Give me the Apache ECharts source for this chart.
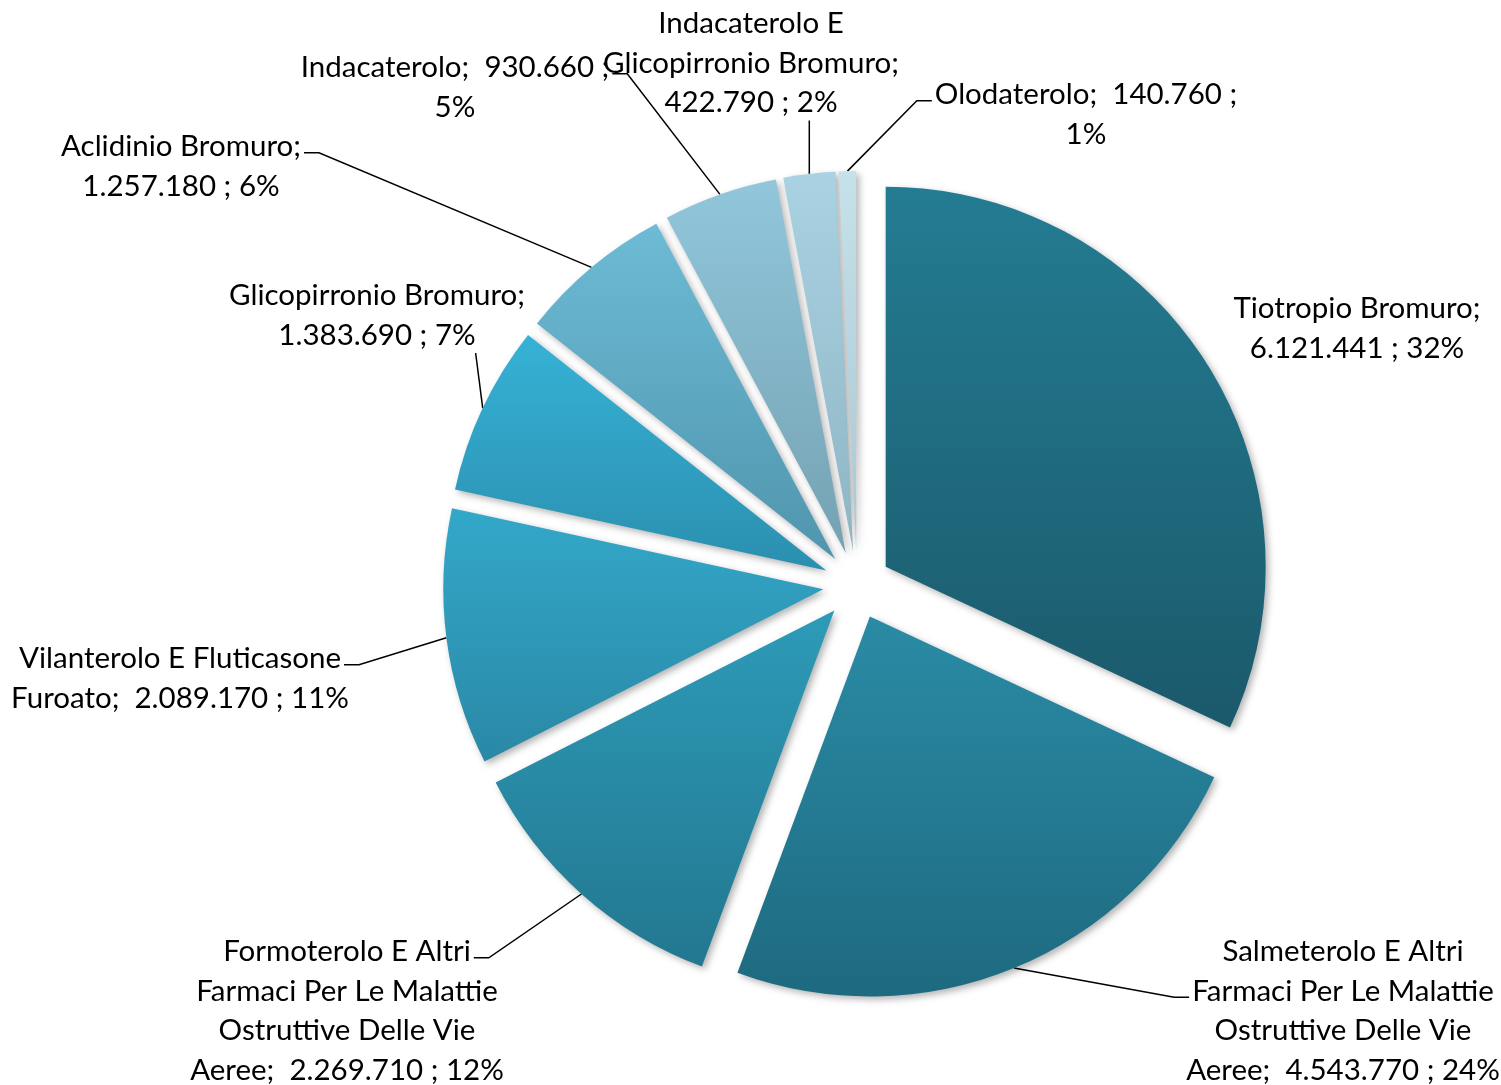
<!DOCTYPE html>
<html>
<head>
<meta charset="utf-8">
<script src="https://cdn.jsdelivr.net/npm/echarts@6/dist/echarts.min.js"></script>
<style>
  html, body { margin: 0; padding: 0; background: #fff; }
  #chart { width: 1501px; height: 1085px; }
</style>
</head>
<body>
<div id="chart"></div>
<script>
  var names = [
    'Tiotropio Bromuro',
    'Salmeterolo E Altri Farmaci Per Le Malattie Ostruttive Delle Vie Aeree',
    'Formoterolo E Altri Farmaci Per Le Malattie Ostruttive Delle Vie Aeree',
    'Vilanterolo E Fluticasone Furoato',
    'Glicopirronio Bromuro',
    'Aclidinio Bromuro',
    'Indacaterolo',
    'Indacaterolo E Glicopirronio Bromuro',
    'Olodaterolo'
  ]
  var values = [6121441, 4543770, 2269710, 2089170, 1383690, 1257180, 930660, 422790, 140760]

  // label text as wrapped in the original, {v} = value, {p} = percent
  var labelTemplates = [
    'Tiotropio Bromuro;\n{v} ; {p}%',
    'Salmeterolo E Altri\nFarmaci Per Le Malattie\nOstruttive Delle Vie\nAeree;  {v} ; {p}%',
    'Formoterolo E Altri\nFarmaci Per Le Malattie\nOstruttive Delle Vie\nAeree;  {v} ; {p}%',
    'Vilanterolo E Fluticasone\nFuroato;  {v} ; {p}%',
    'Glicopirronio Bromuro;\n{v} ; {p}%',
    'Aclidinio Bromuro;\n{v} ; {p}%',
    'Indacaterolo;  {v} ;\n{p}%',
    'Indacaterolo E\nGlicopirronio Bromuro;\n{v} ; {p}%',
    'Olodaterolo;  {v} ;\n{p}%'
  ]

  // gradient colours, top -> bottom
  var colorsTop = ['#247c92', '#2a8ba5', '#2d9bb8', '#33a8c9', '#36b2d6', '#6dbbd6', '#91c6db', '#a9d2e2', '#c5e1ea']
  var colorsBottom = ['#1b596b', '#1e6a80', '#237790', '#2a88a6', '#2b8faf', '#5095ad', '#74a2b2', '#8fb5c3', '#a9c8d3']

  // label box (centre x, top y) and where the leader line meets it
  var labelPos = [
    [1357, 289], [1343, 932], [347, 932], [180, 639], [377, 276],
    [181, 127], [455, 48], [751, 4], [1086, 75]
  ]
  var lineAnchor = [null, ['left', 1], ['right', 0], ['right', 0], ['bottom'],
    ['right', 0], ['right', 0], ['bottom'], ['left', 0]]

  var CX = 857, CY = 585, R = 380, EXPLODE = 34
  var FONT = 29.5, LINE_H = 39.5

  var texts = []

  function fmt(v) {
    return String(v).replace(/\B(?=(\d{3})+(?!\d))/g, '.')
  }

  var ctx = document.createElement('canvas').getContext('2d')
  ctx.font = FONT + 'px Lato'
  function textW(s) { return ctx.measureText(s).width }

  var chart = echarts.init(document.getElementById('chart'))

  var sliceData = names.map(function(n, i) {
    return {
      name: n,
      value: values[i],
      selected: true,
      itemStyle: {
        color: new echarts.graphic.LinearGradient(0, 0, 0, 1, [
          { offset: 0, color: colorsTop[i] },
          { offset: 1, color: colorsBottom[i] }
        ])
      }
    }
  })

  var labelData = names.map(function(n, i) {
    return {
      name: n,
      value: values[i],
      labelLine: { show: i !== 0 }
    }
  })

  chart.setOption({
    animation: false,
    series: [{
      // the exploded slices
      type: 'pie',
      center: [CX, CY],
      radius: [0, R],
      startAngle: 90,
      clockwise: true,
      selectedMode: 'multiple',
      selectedOffset: EXPLODE,
      silent: true,
      label: { show: false },
      labelLine: { show: false },
      itemStyle: {
        shadowBlur: 7,
        shadowOffsetX: 3,
        shadowOffsetY: 3,
        shadowColor: 'rgba(0,0,0,0.3)'
      },
      emphasis: { disabled: true },
      data: sliceData
    }, {
      // invisible ring carrying the labels and leader lines
      type: 'pie',
      center: [CX, CY],
      radius: [0, R + EXPLODE],
      startAngle: 90,
      clockwise: true,
      silent: true,
      percentPrecision: 0,
      avoidLabelOverlap: false,
      itemStyle: { color: 'rgba(0,0,0,0)' },
      label: {
        show: true,
        formatter: function(p) {
          var t = labelTemplates[p.dataIndex]
            .replace('{v}', fmt(p.value))
            .replace('{p}', p.percent)
          texts[p.dataIndex] = t
          return t
        },
        fontFamily: 'Lato',
        fontSize: FONT,
        lineHeight: LINE_H,
        color: '#000',
        align: 'center'
      },
      labelLine: {
        show: true,
        length: 20,
        length2: 15,
        lineStyle: { color: '#000', width: 1.5 }
      },
      labelLayout: function(params) {
        var i = params.dataIndex
        var pos = labelPos[i]
        var res = { x: pos[0], y: pos[1], align: 'center', verticalAlign: 'top' }
        var a = lineAnchor[i]
        var p0 = params.labelLinePoints && params.labelLinePoints[0]
        if (a && p0) {
          var lines = (params.text || texts[i] || '').split('\n')
          if (a[0] === 'bottom') {
            var k = lines.length - 1
            var half = textW(lines[k]) / 2
            var bx = Math.max(pos[0] - half, Math.min(pos[0] + half, p0[0]))
            var by = pos[1] + lines.length * LINE_H - 2
            res.labelLinePoints = [[p0[0], p0[1]], [bx, by], [bx, by]]
          } else {
            var k2 = a[1]
            var w = textW(lines[k2]) / 2 + 3
            var ly = pos[1] + (k2 + 0.5) * LINE_H + 6
            var sgn = a[0] === 'right' ? 1 : -1
            var lx = pos[0] + sgn * w
            res.labelLinePoints = [[p0[0], p0[1]], [lx + sgn * 15, ly], [lx, ly]]
          }
        }
        return res
      },
      emphasis: { disabled: true },
      data: labelData
    }]
  })
</script>
</body>
</html>
